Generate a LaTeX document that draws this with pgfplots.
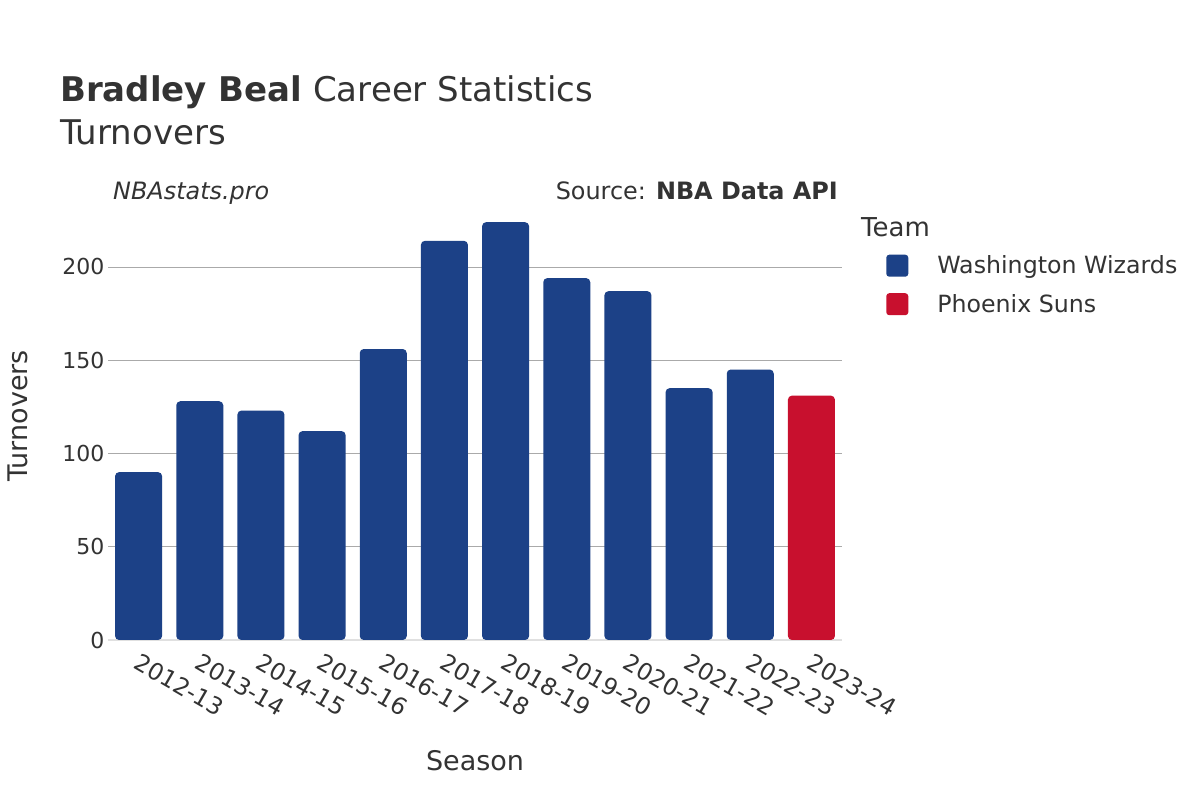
\documentclass[border=0pt]{standalone}
\usepackage{pgfplots}
\pgfplotsset{compat=1.18}
\usepackage{fontspec}
\setmainfont{DejaVu Sans}
\definecolor{wiz}{HTML}{1C4187}
\definecolor{suns}{HTML}{C8102E}
\definecolor{txt}{HTML}{333333}
\definecolor{gridc}{HTML}{AAAAAA}
\newcommand{\fs}[1]{\fontsize{#1bp}{#1bp}\selectfont}
\begin{document}
\begin{tikzpicture}
\path[use as bounding box, fill=white] (0,0) rectangle (1200bp,800bp);
\begin{axis}[
  at={(108bp,160bp)}, anchor=south west,
  scale only axis, width=734bp, height=429bp,
  xmin=-0.5, xmax=11.5, ymin=0, ymax=230,
  axis line style={draw=none},
  ybar, bar width=47bp,
  xtick={0,...,11},
  xticklabels={2012-13,2013-14,2014-15,2015-16,2016-17,2017-18,2018-19,2019-20,2020-21,2021-22,2022-23,2023-24},
  xticklabel style={rotate=-30, anchor=north west, font=\fs{23.5}, text=txt, xshift=5bp, yshift=-6bp},
  ytick={50,100,150,200},
  extra y ticks={0},
  extra y tick style={grid style={color=black!12, line width=1.5bp}},
  yticklabel style={font=\fs{22}, text=txt},
  /pgf/number format/assume math mode=true,
  major tick length=0pt,
  ymajorgrids, grid style={color=gridc, line width=0.8bp},
  legend cell align=left,
  legend style={draw=none, fill=none, at={(1.056,0.905)}, anchor=north west,
     font=\fs{23.7}, text=txt, row sep=15bp,
     nodes={inner xsep=0bp, inner ysep=2bp}},
  legend image code/.code={\fill[#1, draw=none, rounded corners=3bp] (0bp,-11bp) rectangle (22bp,11bp); \path[draw=none, fill=none] (22bp,0bp) rectangle (51bp,0.1bp);},
]
\addplot[fill=wiz, draw=none, bar shift=0pt, rounded corners=4bp] coordinates {
(0,90) (1,128) (2,123) (3,112) (4,156) (5,214) (6,224) (7,194) (8,187) (9,135) (10,145)};
\addlegendentry{Washington Wizards}
\addplot[fill=suns, draw=none, bar shift=0pt, rounded corners=4bp] coordinates {(11,131)};
\addlegendentry{Phoenix Suns}
\end{axis}
\node[anchor=base west, text=txt, inner sep=0] at (60bp,698bp) {\fs{34}\textbf{Bradley Beal} Career Statistics};
\node[anchor=base west, text=txt, inner sep=0] at (60bp,655bp) {\fs{34}Turnovers};
\node[anchor=base west, text=txt, inner sep=0] at (113bp,600bp) {\fs{23.9}\itshape NBAstats.pro};
\node[anchor=base east, text=txt, inner sep=0] at (838bp,600bp) {\fs{23.9}Source: \textbf{NBA Data API}};
\node[anchor=base, text=txt, inner sep=0] at (475bp,30bp) {\fs{27}Season};
\node[rotate=90, anchor=base, text=txt, inner sep=0] at (27bp,384bp) {\fs{27}Turnovers};
\node[anchor=base west, text=txt, inner sep=0] at (861bp,563bp) {\fs{26}Team};
\end{tikzpicture}
\end{document}
